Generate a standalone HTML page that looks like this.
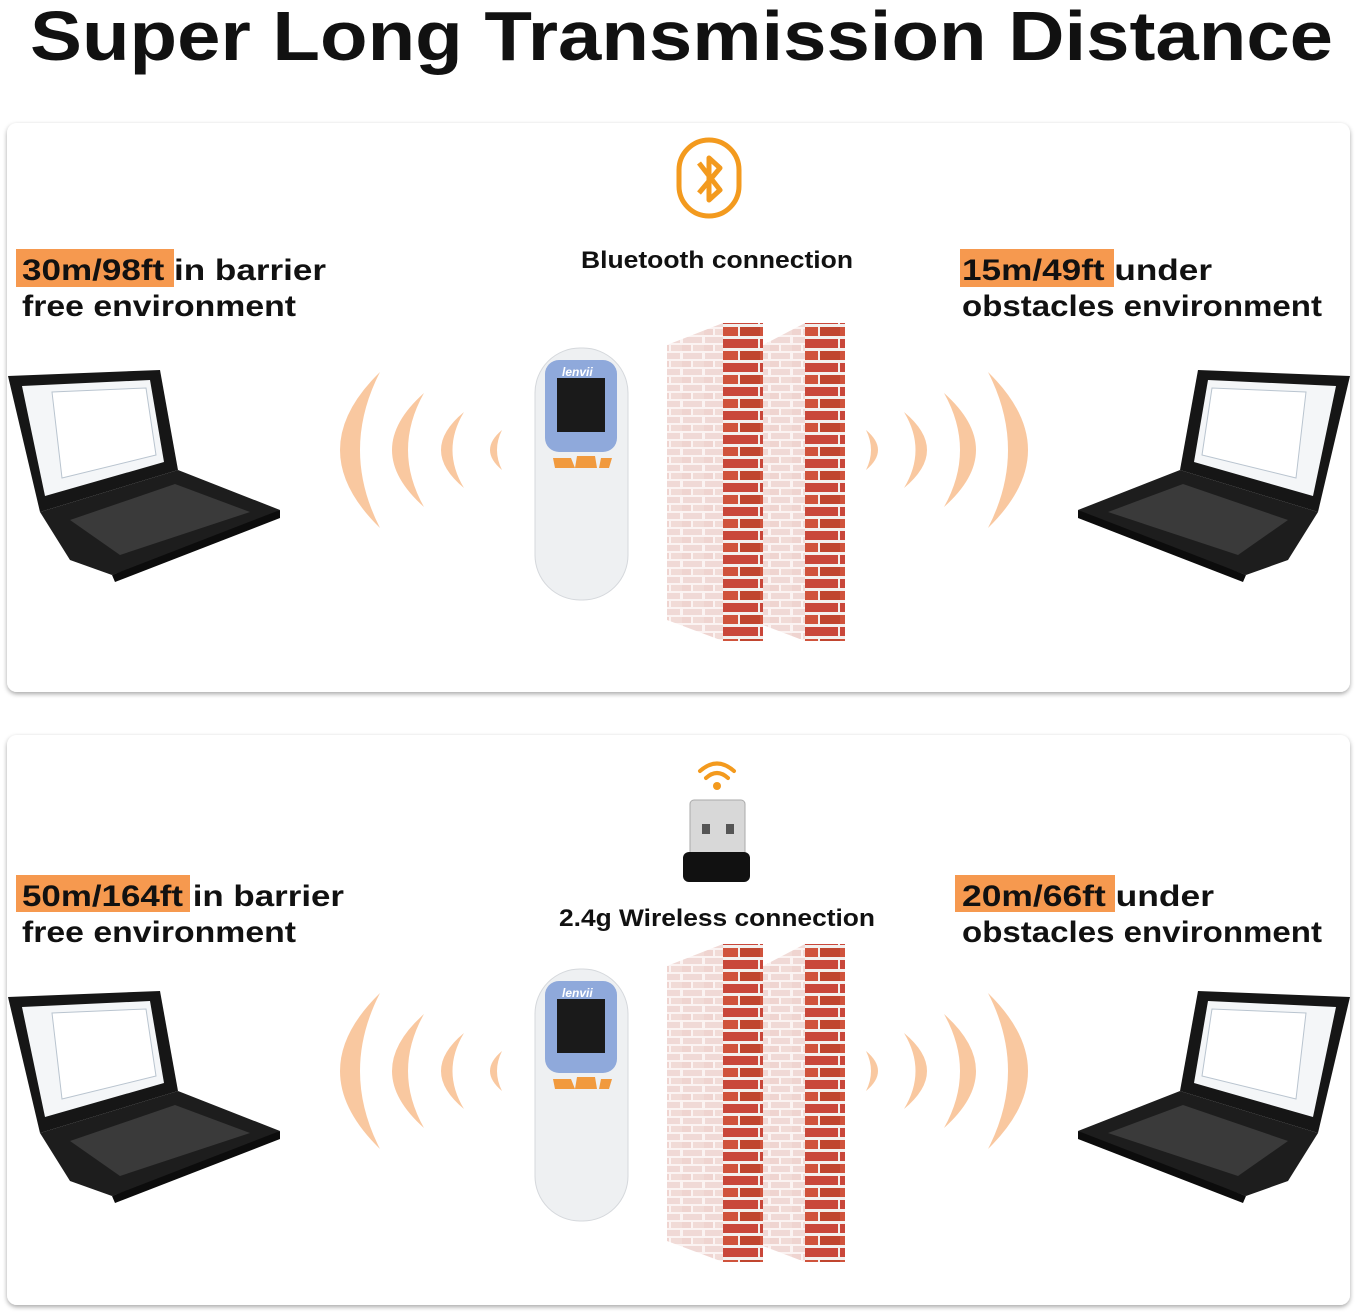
<!DOCTYPE html>
<html><head><meta charset="utf-8"><style>
html,body{margin:0;padding:0;background:#fff;}
svg{display:block;}
text{font-family:"Liberation Sans",sans-serif;font-weight:bold;fill:#111;}
</style></head><body>
<svg width="1358" height="1314" viewBox="0 0 1358 1314" xmlns="http://www.w3.org/2000/svg">
<defs>
<filter id="sh" x="-5%" y="-5%" width="110%" height="110%"><feDropShadow dx="0" dy="2" stdDeviation="2.5" flood-color="#000" flood-opacity="0.35"/></filter>
<pattern id="brk" width="40" height="24" patternUnits="userSpaceOnUse">
<rect width="40" height="24" fill="#f3f0ee"/>
<rect x="0" y="3" width="38" height="9" fill="#c9473a"/>
<rect x="-20" y="15" width="38" height="9" fill="#d0533c"/>
<rect x="20" y="15" width="38" height="9" fill="#c0452f"/>
</pattern>
<pattern id="pbrk" width="22" height="16" patternUnits="userSpaceOnUse">
<rect width="22" height="16" fill="#fbf3f2"/>
<rect x="1" y="1" width="19" height="6" fill="#f0d9d6"/>
<rect x="-10" y="9" width="19" height="6" fill="#efd4d0"/>
<rect x="11" y="9" width="19" height="6" fill="#f1dbd7"/>
</pattern>
<g id="laptopL">
<polygon points="8,376 160,370 178,470 40,512" fill="#161616"/>
<polygon points="22,386 150,380 164,462 45,496" fill="#f4f6f8"/>
<polygon points="52,392 146,388 156,455 62,478" fill="#fff" stroke="#b9c4cf"/>
<polygon points="40,512 178,470 280,510 250,525 112,575 70,560" fill="#1d1d1d"/>
<polygon points="70,520 175,484 250,512 120,555" fill="#3a3a3a"/>
<polygon points="112,575 280,510 280,518 115,582" fill="#0c0c0c"/>
</g>
<g id="scanner">
<rect x="535" y="348" width="93" height="252" rx="45" fill="#eef0f2" stroke="#d5d8dc"/>
<rect x="545" y="360" width="72" height="92" rx="14" fill="#8fa9db"/>
<rect x="557" y="378" width="48" height="54" fill="#1a1a1a"/>
<text x="562" y="376" font-size="12" style="fill:#fff;font-style:italic">lenvii</text>
<path d="M553 458 h18 l4 10 h-20z M577 456 h18 l2 12 h-22z M601 458 h11 l-3 10 h-10z" fill="#f19a3e"/>
</g>
<g id="wall">
<polygon points="667,345 723,323 723,641 667,620" fill="url(#pbrk)"/>
<rect x="723" y="323" width="40" height="318" fill="url(#brk)"/>
<polygon points="763,345 805,323 805,641 763,625" fill="url(#pbrk)"/>
<rect x="805" y="323" width="40" height="318" fill="url(#brk)"/>
</g>
<g id="waves" fill="#f9c8a0">
<path d="M380 372 Q300 450 380 528 Q340 450 380 372Z"/>
<path d="M424 393 Q360 450 424 507 Q392 450 424 393Z"/>
<path d="M464 412 Q418 450 464 488 Q441 450 464 412Z"/>
<path d="M502 430 Q478 450 502 470 Q492 450 502 430Z"/>
<path d="M988 372 Q1068 450 988 528 Q1028 450 988 372Z"/>
<path d="M944 393 Q1008 450 944 507 Q976 450 944 393Z"/>
<path d="M904 412 Q950 450 904 488 Q927 450 904 412Z"/>
<path d="M866 430 Q890 450 866 470 Q876 450 866 430Z"/>
</g>
</defs>
<text x="30" y="60" font-size="70" textLength="1303" lengthAdjust="spacingAndGlyphs">Super Long Transmission Distance</text>

<rect x="7" y="123" width="1343" height="569" rx="10" fill="#fff" filter="url(#sh)"/>
<rect x="7" y="735" width="1343" height="570" rx="10" fill="#fff" filter="url(#sh)"/>

<!-- Panel 1 -->
<rect x="679" y="140" width="60" height="76" rx="30" fill="none" stroke="#f39a1e" stroke-width="5"/>
<path d="M699 163 L720 190 L709 200 V158 L720 168 L699 193" fill="none" stroke="#f39a1e" stroke-width="5" stroke-linejoin="round"/>
<text x="717" y="268" font-size="24" text-anchor="middle" textLength="272" lengthAdjust="spacingAndGlyphs">Bluetooth connection</text>
<rect x="16" y="249" width="158" height="38" fill="#f6994f"/>
<text x="22" y="280" font-size="30" textLength="304" lengthAdjust="spacingAndGlyphs">30m/98ft in barrier</text>
<text x="22" y="316" font-size="30" textLength="274" lengthAdjust="spacingAndGlyphs">free environment</text>
<rect x="960" y="249" width="154" height="38" fill="#f6994f"/>
<text x="962" y="280" font-size="30" textLength="250" lengthAdjust="spacingAndGlyphs">15m/49ft under</text>
<text x="962" y="316" font-size="30" textLength="360" lengthAdjust="spacingAndGlyphs">obstacles environment</text>
<use href="#laptopL"/>
<use href="#laptopL" transform="translate(1358,0) scale(-1,1)"/>
<use href="#waves"/>
<use href="#scanner"/>
<use href="#wall"/>

<!-- Panel 2 -->
<g fill="none" stroke="#f39a1e" stroke-width="4" stroke-linecap="round">
<path d="M700 771 Q717 756 734 771"/><path d="M706 778 Q717 768 728 778"/>
</g>
<circle cx="717" cy="786" r="4" fill="#f39a1e"/>
<rect x="690" y="800" width="55" height="58" rx="4" fill="#d8d8d8" stroke="#aaa"/>
<rect x="702" y="824" width="8" height="10" fill="#555"/><rect x="726" y="824" width="8" height="10" fill="#555"/>
<rect x="683" y="852" width="67" height="30" rx="6" fill="#111"/>
<text x="717" y="926" font-size="24" text-anchor="middle" textLength="316" lengthAdjust="spacingAndGlyphs">2.4g Wireless connection</text>
<rect x="16" y="875" width="174" height="37" fill="#f6994f"/>
<text x="22" y="906" font-size="30" textLength="322" lengthAdjust="spacingAndGlyphs">50m/164ft in barrier</text>
<text x="22" y="942" font-size="30" textLength="274" lengthAdjust="spacingAndGlyphs">free environment</text>
<rect x="955" y="875" width="160" height="37" fill="#f6994f"/>
<text x="962" y="906" font-size="30" textLength="252" lengthAdjust="spacingAndGlyphs">20m/66ft under</text>
<text x="962" y="942" font-size="30" textLength="360" lengthAdjust="spacingAndGlyphs">obstacles environment</text>
<g transform="translate(0,621)">
<use href="#laptopL"/>
<use href="#laptopL" transform="translate(1358,0) scale(-1,1)"/>
<use href="#waves"/>
<use href="#scanner"/>
<use href="#wall"/>
</g>
</svg>
</body></html>
